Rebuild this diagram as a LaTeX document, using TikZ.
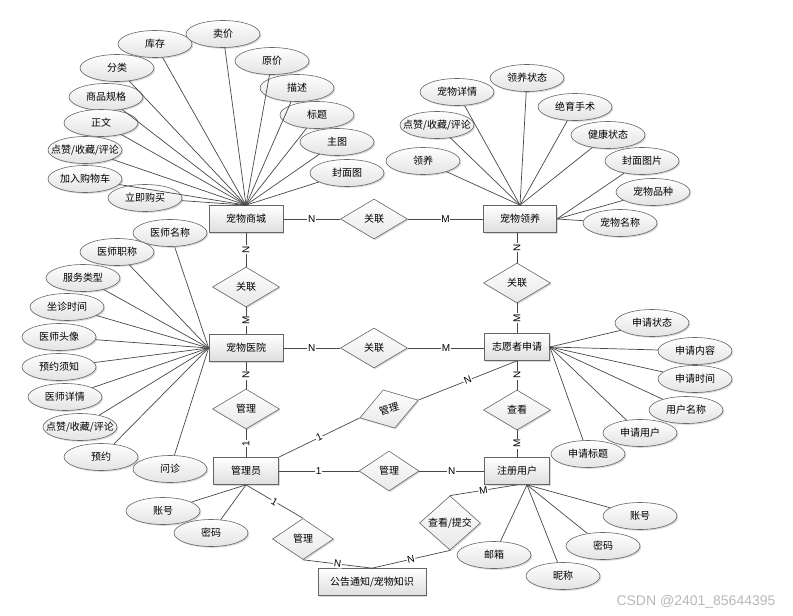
\documentclass[tikz,border=0pt]{standalone}
\usepackage{fontspec}
\setmainfont{Liberation Sans}
\newfontfamily\cjk{Noto Sans CJK SC}
\usetikzlibrary{shapes.geometric,shadows}

\begin{document}
\begin{tikzpicture}[
		x=1pt, y=-1pt,
		every node/.style={font=\cjk\fontsize{10}{12}\selectfont},
		softshadow/.style={drop shadow={shadow xshift=1.3pt, shadow yshift=-1.3pt, opacity=0.3}},
		entity/.style={
			rectangle, draw=black!60, line width=0.7pt,
			minimum width=74pt, minimum height=27pt, inner sep=0pt,
			top color=white, bottom color=black!13, softshadow
		},
		attr/.style={
			ellipse, draw=black!60, line width=0.6pt,
			minimum width=74pt, minimum height=27pt,
			inner xsep=-10pt, inner ysep=0pt,
			top color=white, bottom color=black!11, softshadow
		},
		rel/.style={
			diamond, draw=black!60, line width=0.6pt,
			minimum width=67pt, minimum height=40pt, inner sep=0pt,
			top color=white, bottom color=black!9, softshadow
		},
		link/.style={draw=black!72, line width=0.7pt},
		card/.style={midway, sloped, fill=white, inner sep=0.8pt,
			font=\fontsize{10}{12}\selectfont}
		]
		\useasboundingbox (0,0) rectangle (793,616);
		
		%--------------------------------------------------
		% Entities
		%--------------------------------------------------
		
		\node[entity] (shop) at (246,219) {宠物商城};
		\node[entity, minimum width=73pt] (adopt) at (520,219) {宠物领养};
		\node[entity] (hos) at (246,348) {宠物医院};
		\node[entity, minimum width=65pt] (vol) at (517,347) {志愿者申请};
		\node[entity, minimum width=65pt] (adm) at (246,471) {管理员};
		\node[entity, minimum width=65pt] (reg) at (517,471) {注册用户};
		\node[entity, minimum width=108pt] (notice) at (372,582) {公告通知/宠物知识};
		
		%--------------------------------------------------
		% Relations
		%--------------------------------------------------
		
		\node[rel] (rl1) at (374,219) {关联};
		\node[rel] (rl2) at (246,287) {关联};
		\node[rel] (rl3) at (517,283) {关联};
		\node[rel] (rl4) at (374,348) {关联};
		\node[rel] (mg1) at (246,409) {管理};
		\node[rel] (ck1) at (517,410) {查看};
		\node[rel, minimum width=60pt] (mg3) at (389,471) {管理};
		\node[rel, minimum width=61pt, rotate=17] (mg2) at (389,409) {管理};
		\node[rel, minimum width=61pt, minimum height=41pt] (mg4) at (303,539) {管理};
		\node[rel, minimum width=61pt] (ck2) at (450,523) {查看/提交};
		
		%--------------------------------------------------
		% Attributes of 宠物商城
		%--------------------------------------------------
		
		\node[attr] (stock) at (155,44) {库存};
		\node[attr] (sprice) at (223,34) {卖价};
		\node[attr] (cat) at (117,68) {分类};
		\node[attr] (oprice) at (272,61) {原价};
		\node[attr] (spec) at (106,97) {商品规格};
		\node[attr] (desc) at (297,88) {描述};
		\node[attr] (body) at (101,123) {正文};
		\node[attr] (title) at (317,115) {标题};
		\node[attr] (likeA) at (85,150) {点赞/收藏/评论};
		\node[attr] (mainimg) at (337,142) {主图};
		\node[attr] (cart) at (85,179) {加入购物车};
		\node[attr] (cover) at (347,173) {封面图};
		\node[attr] (buy) at (145,198) {立即购买};
		
		%--------------------------------------------------
		% Attributes of 宠物领养
		%--------------------------------------------------
		
		\node[attr] (petinfo) at (457,92) {宠物详情};
		\node[attr] (adstate) at (527,78) {领养状态};
		\node[attr] (likeB) at (437,125) {点赞/收藏/评论};
		\node[attr] (neuter) at (575,107) {绝育手术};
		\node[attr] (adoptA) at (423,161) {领养};
		\node[attr] (health) at (608,135) {健康状态};
		\node[attr] (coverimg) at (642,161) {封面图片};
		\node[attr] (breed) at (653,192) {宠物品种};
		\node[attr] (petname) at (620,223) {宠物名称};
		
		%--------------------------------------------------
		% Attributes of 宠物医院
		%--------------------------------------------------
		
		\node[attr] (docname) at (170,233) {医师名称};
		\node[attr] (doctitle) at (117,252) {医师职称};
		\node[attr] (service) at (83,278) {服务类型};
		\node[attr] (hours) at (67,307) {坐诊时间};
		\node[attr] (avatar) at (59,337) {医师头像};
		\node[attr] (booknote) at (59,367) {预约须知};
		\node[attr] (docinfo) at (65,397) {医师详情};
		\node[attr] (likeC) at (80,427) {点赞/收藏/评论};
		\node[attr] (book) at (101,457) {预约};
		\node[attr] (consult) at (170,469) {问诊};
		
		%--------------------------------------------------
		% Attributes of 志愿者申请
		%--------------------------------------------------
		
		\node[attr] (appstate) at (652,323) {申请状态};
		\node[attr] (appbody) at (695,351) {申请内容};
		\node[attr] (apptime) at (695,379) {申请时间};
		\node[attr] (uname) at (686,410) {用户名称};
		\node[attr] (appuser) at (640,433) {申请用户};
		\node[attr] (apptitle) at (588,454) {申请标题};
		
		%--------------------------------------------------
		% Attributes of 管理员 and 注册用户
		%--------------------------------------------------
		
		\node[attr] (admacc) at (163,511) {账号};
		\node[attr] (admpwd) at (211,533) {密码};
		
		\node[attr] (regacc) at (640,516) {账号};
		\node[attr] (regpwd) at (603,546) {密码};
		\node[attr] (nick) at (563,576) {昵称};
		\node[attr] (mail) at (494,555) {邮箱};
		
		\coordinate (regfan) at ([xshift=10pt]reg.south);
		
		%--------------------------------------------------
		% Attribute links
		%--------------------------------------------------
		
		\draw[link] (stock) -- (shop.north);
		\draw[link] (sprice) -- (shop.north);
		\draw[link] (cat) -- (shop.north);
		\draw[link] (oprice) -- (shop.north);
		\draw[link] (spec) -- (shop.north);
		\draw[link] (desc) -- (shop.north);
		\draw[link] (body) -- (shop.north);
		\draw[link] (title) -- (shop.north);
		\draw[link] (likeA) -- (shop.north);
		\draw[link] (mainimg) -- (shop.north);
		\draw[link] (cart) -- (shop.north);
		\draw[link] (cover) -- (shop.north);
		\draw[link] (buy) -- (shop.north);
		
		\draw[link] (petinfo) -- (adopt.north);
		\draw[link] (adstate) -- (adopt.north);
		\draw[link] (likeB) -- (adopt.north);
		\draw[link] (neuter) -- (adopt.north);
		\draw[link] (adoptA) -- (adopt.north);
		\draw[link] (health) -- (adopt.north);
		\draw[link] (coverimg) -- (adopt.east);
		\draw[link] (breed) -- (adopt.east);
		\draw[link] (petname) -- (adopt.east);
		
		\draw[link] (docname) -- (hos.west);
		\draw[link] (doctitle) -- (hos.west);
		\draw[link] (service) -- (hos.west);
		\draw[link] (hours) -- (hos.west);
		\draw[link] (avatar) -- (hos.west);
		\draw[link] (booknote) -- (hos.west);
		\draw[link] (docinfo) -- (hos.west);
		\draw[link] (likeC) -- (hos.west);
		\draw[link] (book) -- (hos.west);
		\draw[link] (consult) -- (hos.west);
		
		\draw[link] (appstate) -- (vol.east);
		\draw[link] (appbody) -- (vol.east);
		\draw[link] (apptime) -- (vol.east);
		\draw[link] (uname) -- (vol.east);
		\draw[link] (appuser) -- (vol.east);
		\draw[link] (apptitle) -- (vol.east);
		
		\draw[link] (admacc) -- (adm.south);
		\draw[link] (admpwd) -- (adm.south);
		
		\draw[link] (regacc) -- (regfan);
		\draw[link] (regpwd) -- (regfan);
		\draw[link] (nick) -- (regfan);
		\draw[link] (mail) -- (regfan);
		
		%--------------------------------------------------
		% Relationship links
		%--------------------------------------------------
		
		\draw[link] (shop) -- node[card]{N} (rl1);
		\draw[link] (rl1) -- node[card]{M} (rl1 -| adopt.west);
		\draw[link] (rl2) -- node[card]{N} (shop);
		\draw[link] (hos) -- node[card]{M} (rl2);
		\draw[link] (rl3) -- node[card]{N} (rl3 |- adopt.south);
		\draw[link] (vol) -- node[card]{M} (rl3);
		\draw[link] (hos) -- node[card]{N} (rl4);
		\draw[link] (rl4) -- node[card]{M} (rl4 -| vol.west);
		\draw[link] (mg1) -- node[card]{N} (hos);
		\draw[link] (adm) -- node[card]{1} (mg1);
		\draw[link] (ck1) -- node[card]{N} (vol);
		\draw[link] (reg) -- node[card]{M} (ck1);
		\draw[link] (adm) -- node[card]{1} (mg3);
		\draw[link] (mg3) -- node[card]{N} (reg);
		\draw[link] (adm.north east) -- node[card]{1} (mg2.west);
		\draw[link] (mg2.east) -- node[card]{N} (vol.south);
		\draw[link] (adm.south) -- node[card]{1} (mg4.north);
		\draw[link] (mg4.south) -- node[card]{N} (notice.north);
		\draw[link] (reg.south) -- node[card]{M} (ck2.north);
		\draw[link] (ck2.south) -- node[card]{N} (notice.north);
		
		% watermark
		\node[font=\fontsize{14}{16}\selectfont, text=black!28] (wm) at (696,602) {CSDN @2401\_85644395};
		
	\end{tikzpicture}
\end{document}
